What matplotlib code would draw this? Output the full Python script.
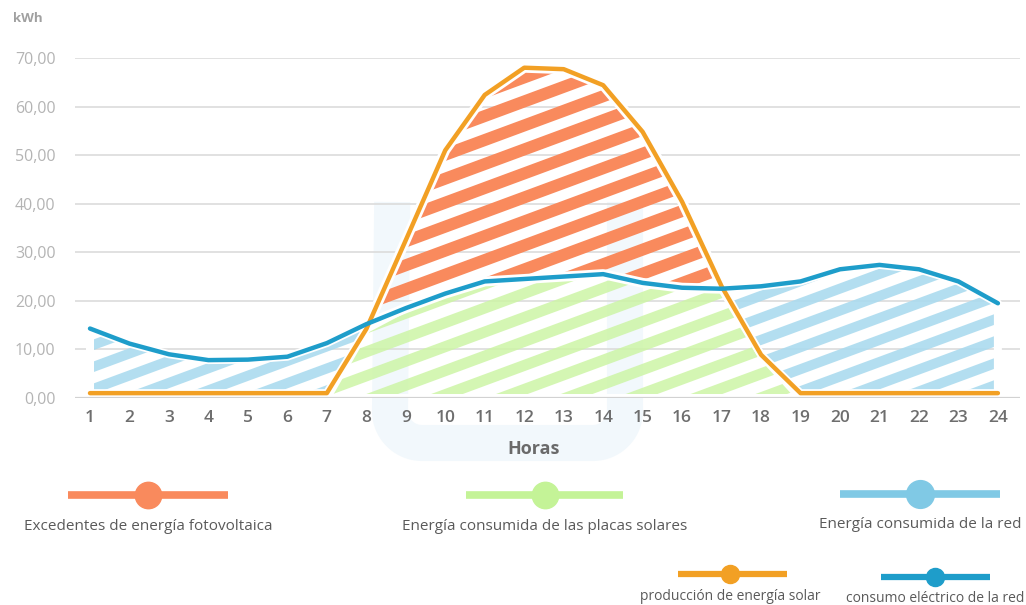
import numpy as np
import matplotlib
matplotlib.use("Agg")
import matplotlib.pyplot as plt
from matplotlib.lines import Line2D
from matplotlib.patches import PathPatch
from matplotlib.ticker import FuncFormatter

plt.rcParams['font.family'] = ['Open Sans', 'DejaVu Sans']

# Hourly data (kWh)
horas = list(range(1, 25))
produccion_solar = [1.0, 1.0, 1.0, 1.0, 1.0, 1.0, 1.0, 14.2, 32.5, 51.0, 62.4, 68.0,
                    67.7, 64.4, 54.8, 40.4, 23.0, 8.9, 1.0, 1.0, 1.0, 1.0, 1.0, 1.0]
consumo_red = [14.3, 11.2, 9.0, 7.8, 7.9, 8.5, 11.3, 15.2, 18.5, 21.5, 24.0, 24.5,
               25.0, 25.5, 23.7, 22.7, 22.5, 23.0, 24.0, 26.5, 27.4, 26.5, 24.0, 19.5]
y_ticks = [0, 10, 20, 30, 40, 50, 60, 70]

legend_labels = ["Excedentes de energía fotovoltaica",
                 "Energía consumida de las placas solares",
                 "Energía consumida de la red",
                 "producción de energía solar",
                 "consumo eléctrico de la red"]

C_EXC = '#F98A5D'
C_PLACAS = '#CDF5A6'
C_RED_AREA = '#ABDBEF'
C_SOLAR = '#F2A024'
C_CONSUMO = '#1E9DCA'

W, H = 1026, 605
fig = plt.figure(figsize=(W / 100, H / 100), dpi=100)
fig.patch.set_facecolor('white')


def fx(px):
    return px / W


def fy(py):
    return 1 - py / H


# Faint watermark behind the plot
t1 = np.linspace(np.pi, 1.5 * np.pi, 20)
t2 = np.linspace(1.5 * np.pi, 2 * np.pi, 20)
ux = np.concatenate([[392], 422 + 32 * np.cos(t1), 593 + 32 * np.cos(t2), [625]])
uy = np.concatenate([[220], 411 - 32 * np.sin(t1), 411 - 32 * np.sin(t2), [220]])
fig.add_artist(Line2D(fx(ux), fy(uy), transform=fig.transFigure, color='#EAF4FA',
                      lw=26, alpha=0.6, solid_joinstyle='round', zorder=0))

ax_px = (75, 58, 1020, 398)  # left, top, right, bottom in pixels
ax = fig.add_axes([fx(ax_px[0]), fy(ax_px[3]), fx(ax_px[2] - ax_px[0]),
                   (ax_px[3] - ax_px[1]) / H])
ax.patch.set_alpha(0)
ax.set_xlim(0.62, 24.56)
ax.set_ylim(0, 70)
axW, axH = ax_px[2] - ax_px[0], ax_px[3] - ax_px[1]

for s in ax.spines.values():
    s.set_visible(False)
for v in y_ticks:
    ax.axhline(v, color='#D2D2D2' if v == 0 else '#DEDEDE', lw=1.6 if v == 0 else 1.3,
               zorder=3.5 if v == 0 else 1)

x = np.array(horas, dtype=float)
sol = np.array(produccion_solar)
red = np.array(consumo_red)


def striped_region(coll, color, spacing=24, width=11, slope=0.37, alpha=1.0, margin=5):
    paths = coll.get_paths()
    coll.remove()
    for p in paths:
        patch = PathPatch(p, transform=ax.transData, fc='none', ec='none')
        ax.add_patch(patch)
        c = -slope * axW - spacing
        while c < axH + spacing:
            ln, = ax.plot([0, 1], [c / axH, (c + slope * axW) / axH], transform=ax.transAxes,
                          color=color, lw=width * 0.72, solid_capstyle='butt',
                          alpha=alpha, zorder=2)
            ln.set_clip_path(patch)
            c += spacing
        # white inner margin between the stripes and the region outline
        ax.add_patch(PathPatch(p, transform=ax.transData, fc='none', ec='white',
                               lw=margin * 1.44, joinstyle='round', zorder=3))


exc = ax.fill_between(x, red, sol, where=sol >= red, interpolate=True)
striped_region(exc, C_EXC, spacing=24, width=12)

placas = ax.fill_between(x, 0, np.minimum(sol, red), where=sol > 1.5, interpolate=True)
striped_region(placas, C_PLACAS, spacing=24, width=11, alpha=0.85, margin=4)

red_area = ax.fill_between(x, sol, red, where=red >= sol, interpolate=True)
striped_region(red_area, C_RED_AREA, spacing=22, width=10, alpha=0.9, margin=4)

ax.plot(x, sol, color=C_SOLAR, lw=3.2, solid_joinstyle='round', solid_capstyle='round',
        zorder=4, clip_on=False)
ax.plot(x, red, color=C_CONSUMO, lw=3.2, solid_joinstyle='round', solid_capstyle='round',
        zorder=5, clip_on=False)

ax.set_yticks(y_ticks)
ax.yaxis.set_major_formatter(FuncFormatter(lambda v, _: f"{v:.2f}".replace('.', ',')))
ax.tick_params(axis='y', length=0, pad=14, labelsize=11.5, labelcolor='#B4B4B4')
ax.set_xticks(horas)
ax.set_xticklabels([str(h) for h in horas])
ax.tick_params(axis='x', length=0, pad=9, labelsize=12.5, labelcolor='#6E6E6E')
for lbl in ax.get_xticklabels():
    lbl.set_fontweight('semibold')

fig.text(fx(28), fy(18), "kWh", ha='center', va='center', fontsize=9.5,
         fontweight='bold', color='#A0A0A0')
fig.text(fx(534), fy(449), "Horas", ha='center', va='center', fontsize=13,
         fontweight='bold', color='#6A6A6A')


# Legend built from line + dot symbols with captions underneath
def legend_item(x0, x1, xc, y, color, lw, ms, label, ty, fs):
    fig.add_artist(Line2D([fx(x0), fx(x1)], [fy(y), fy(y)], transform=fig.transFigure,
                          color=color, lw=lw, solid_capstyle='butt'))
    fig.add_artist(Line2D([fx(xc)], [fy(y)], transform=fig.transFigure, marker='o',
                          ms=ms, color=color, mec=color, lw=0))
    fig.text(fx(xc), fy(ty), label, ha='center', va='center', fontsize=fs, color='#5A5A5A')


legend_item(68, 228, 148, 495, C_EXC, 5.5, 19, legend_labels[0], 526, 11)
legend_item(466, 623, 545, 495, '#C4F397', 5.5, 19, legend_labels[1], 526, 11)
legend_item(840, 1000, 920, 494, '#80C9E5', 5.5, 20, legend_labels[2], 525, 11)
legend_item(678, 787, 730, 574, C_SOLAR, 4.5, 13, legend_labels[3], 597, 10)
legend_item(881, 990, 935, 577, C_CONSUMO, 4.5, 13, legend_labels[4], 598, 10)

fig.savefig("out.png", dpi=100, facecolor='white')
